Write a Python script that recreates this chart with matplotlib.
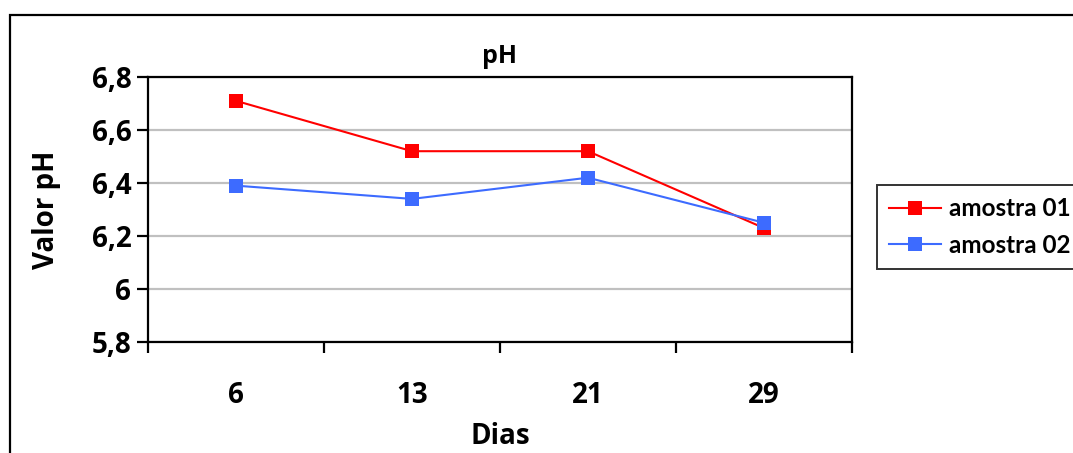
import matplotlib
matplotlib.use("Agg")
import matplotlib.pyplot as plt
from matplotlib.patches import Rectangle
from matplotlib.ticker import FixedLocator, FuncFormatter

categories = ["6", "13", "21", "29"]
amostra_01 = [6.71, 6.52, 6.52, 6.23]
amostra_02 = [6.39, 6.34, 6.42, 6.25]
y_ticks = [5.8, 6.0, 6.2, 6.4, 6.6, 6.8]

plt.rcParams['font.family'] = ['Open Sans', 'DejaVu Sans']
plt.rcParams['font.weight'] = 'bold'

W, H = 1073, 453
fig = plt.figure(figsize=(W / 100, H / 100), dpi=100)

# outer chart border
fig.patches.append(Rectangle((10 / W, -0.05), 1.1, (H - 15) / H + 0.05,
                             transform=fig.transFigure, fill=False,
                             edgecolor='black', linewidth=1.6))

ax = fig.add_axes([148 / W, (H - 342) / H, 704 / W, 265 / H])
x = list(range(len(categories)))
ax.plot(x, amostra_01, color='#FF0000', linewidth=1.5, marker='s',
        markersize=10.5, markeredgewidth=0, label='amostra 01', zorder=3)
ax.plot(x, amostra_02, color='#3D6BFF', linewidth=1.5, marker='s',
        markersize=10.5, markeredgewidth=0, label='amostra 02', zorder=4)

ax.set_xlim(-0.5, len(categories) - 0.5)
ax.set_ylim(5.8, 6.8)
ax.yaxis.set_major_locator(FixedLocator(y_ticks))
ax.yaxis.set_major_formatter(FuncFormatter(
    lambda v, p: ('%g' % round(v, 1)).replace('.', ',')))
ax.grid(axis='y', color='#C0C0C0', linewidth=1.6)
ax.set_axisbelow(True)

ax.set_xticks([i - 0.5 for i in range(len(categories) + 1)])
ax.set_xticklabels([])
ax.set_xticks(x, minor=True)
ax.set_xticklabels(categories, minor=True)
ax.tick_params(axis='x', which='major', direction='out', length=8, width=1.6)
ax.tick_params(axis='x', which='minor', length=0, pad=28, labelsize=20)
ax.tick_params(axis='y', direction='out', length=8, width=1.6, pad=4,
               labelsize=20)
for s in ax.spines.values():
    s.set_linewidth(1.6)

ax.set_title('pH', fontsize=18, fontweight='bold', pad=10)
ax.set_xlabel('Dias', fontsize=20, fontweight='bold', labelpad=9)
ax.set_ylabel('Valor pH', fontsize=20, fontweight='bold', labelpad=22)

leg = fig.legend(loc='upper left', bbox_to_anchor=(877 / W, (H - 185) / H),
                 prop={'family': ['Lato', 'DejaVu Sans'], 'weight': 'bold',
                       'size': 17.5},
                 frameon=True, fancybox=False,
                 edgecolor='black', handlelength=2.15, handletextpad=0.3,
                 borderpad=0.5, labelspacing=0.55, borderaxespad=0)
leg.get_frame().set_linewidth(1.4)

fig.savefig('out.png', dpi=100)
